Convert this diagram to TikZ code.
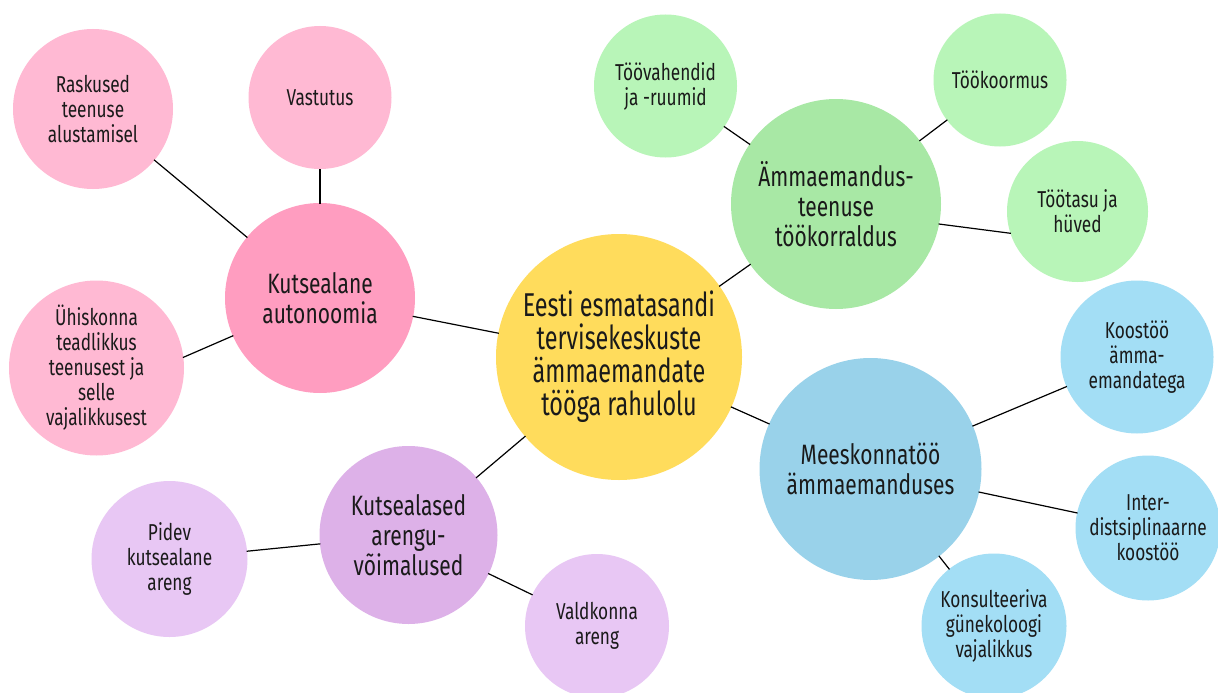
\documentclass[tikz,border=0pt]{standalone}
\usepackage{fontspec}
\setmainfont{Fira Sans}[FakeStretch=0.75]
\newfontfamily\bigfont{Fira Sans}[FakeStretch=0.71]
\definecolor{cyellow}{HTML}{FFDC5C}
\definecolor{cpinkA}{HTML}{FF9DC0}
\definecolor{cpinkB}{HTML}{FFB9D3}
\definecolor{cgreenA}{HTML}{A8E8A5}
\definecolor{cgreenB}{HTML}{B8F5B8}
\definecolor{cblueA}{HTML}{99D2EA}
\definecolor{cblueB}{HTML}{A3DEF5}
\definecolor{cpurpleA}{HTML}{DDB1E8}
\definecolor{cpurpleB}{HTML}{E8C7F4}
\definecolor{ctext}{HTML}{1A1A1A}
\tikzset{
  bubble/.style={circle, inner sep=0pt, outer sep=0pt, draw=none, align=center, text=ctext},
  bigb/.style={bubble, font=\bigfont\fontsize{33}{33}\selectfont},
  midb/.style={bubble, font=\fontsize{28}{30}\selectfont},
  smallb/.style={bubble, font=\fontsize{23}{25}\selectfont},
  link/.style={draw=black, line width=1.2pt, shorten <=-0.5pt, shorten >=-0.5pt}
}
\begin{document}
\begin{tikzpicture}[x=1pt,y=-1pt]
\useasboundingbox (0,0) rectangle (1218,693);
\fill[white] (0,0) rectangle (1218,693);
% bubbles
\node[bigb, fill=cyellow, minimum size=246pt] (c) at (619,357) {Eesti esmatasandi\\tervisekeskuste\\ämmaemandate\\tööga rahulolu};
\node[midb, fill=cpinkA, minimum size=190pt] (a) at (320,298) {Kutsealane\\autonoomia};
\node[smallb, fill=cpinkB, minimum size=143pt] (a1) at (320,97.5) {Vastutus};
\node[smallb, fill=cpinkB, minimum size=160pt] (a2) at (93,109) {Raskused\\teenuse\\alustamisel};
\node[smallb, fill=cpinkB, minimum size=175pt] (a3) at (96.5,368) {Ühiskonna\\teadlikkus\\teenusest ja\\selle\\vajalikkusest};
\node[midb, fill=cgreenA, minimum size=210pt] (g) at (836,204) {Ämmaemandus-\\teenuse\\töökorraldus};
\node[smallb, fill=cgreenB, minimum size=143pt] (g1) at (665.5,86) {Töövahendid\\ja -ruumid};
\node[smallb, fill=cgreenB, minimum size=133pt] (g2) at (1000,80) {Töökoormus};
\node[smallb, fill=cgreenB, minimum size=141pt] (g3) at (1077.5,211.5) {Töötasu ja\\hüved};
\node[midb, fill=cblueA, minimum size=222pt] (b) at (870.5,469) {Meeskonnatöö\\ämmaemanduses};
\node[smallb, fill=cblueB, minimum size=153pt] (b1) at (1137,357) {Koostöö\\ämma-\\emandatega};
\node[smallb, fill=cblueB, minimum size=145pt] (b2) at (1148,528) {Inter-\\distsiplinaarne\\koostöö};
\node[smallb, fill=cblueB, minimum size=145pt] (b3) at (994,626) {Konsulteeriva\\günekoloogi\\vajalikkus};
\node[midb, fill=cpurpleA, minimum size=178pt] (p) at (408.5,535) {Kutsealased\\arengu-\\võimalused};
\node[smallb, fill=cpurpleB, minimum size=156pt] (p1) at (169.5,559) {Pidev\\kutsealane\\areng};
\node[smallb, fill=cpurpleB, minimum size=144pt] (p2) at (597,626) {Valdkonna\\areng};
% connectors
\draw[link] (c) -- (a);
\draw[link] (c) -- (g);
\draw[link] (c) -- (b);
\draw[link] (c) -- (p);
\draw[link] (a) -- (a1);
\draw[link] (a) -- (a2);
\draw[link] (a) -- (a3.7);
\draw[link] (g) -- (g1);
\draw[link] (g) -- (g2);
\draw[link] (g.-11) -- (g3.198);
\draw[link] (b) -- (b1);
\draw[link] (b) -- (b2);
\draw[link] (b) -- (b3);
\draw[link] (p) -- (p1);
\draw[link] (p) -- (p2);
\end{tikzpicture}
\end{document}
